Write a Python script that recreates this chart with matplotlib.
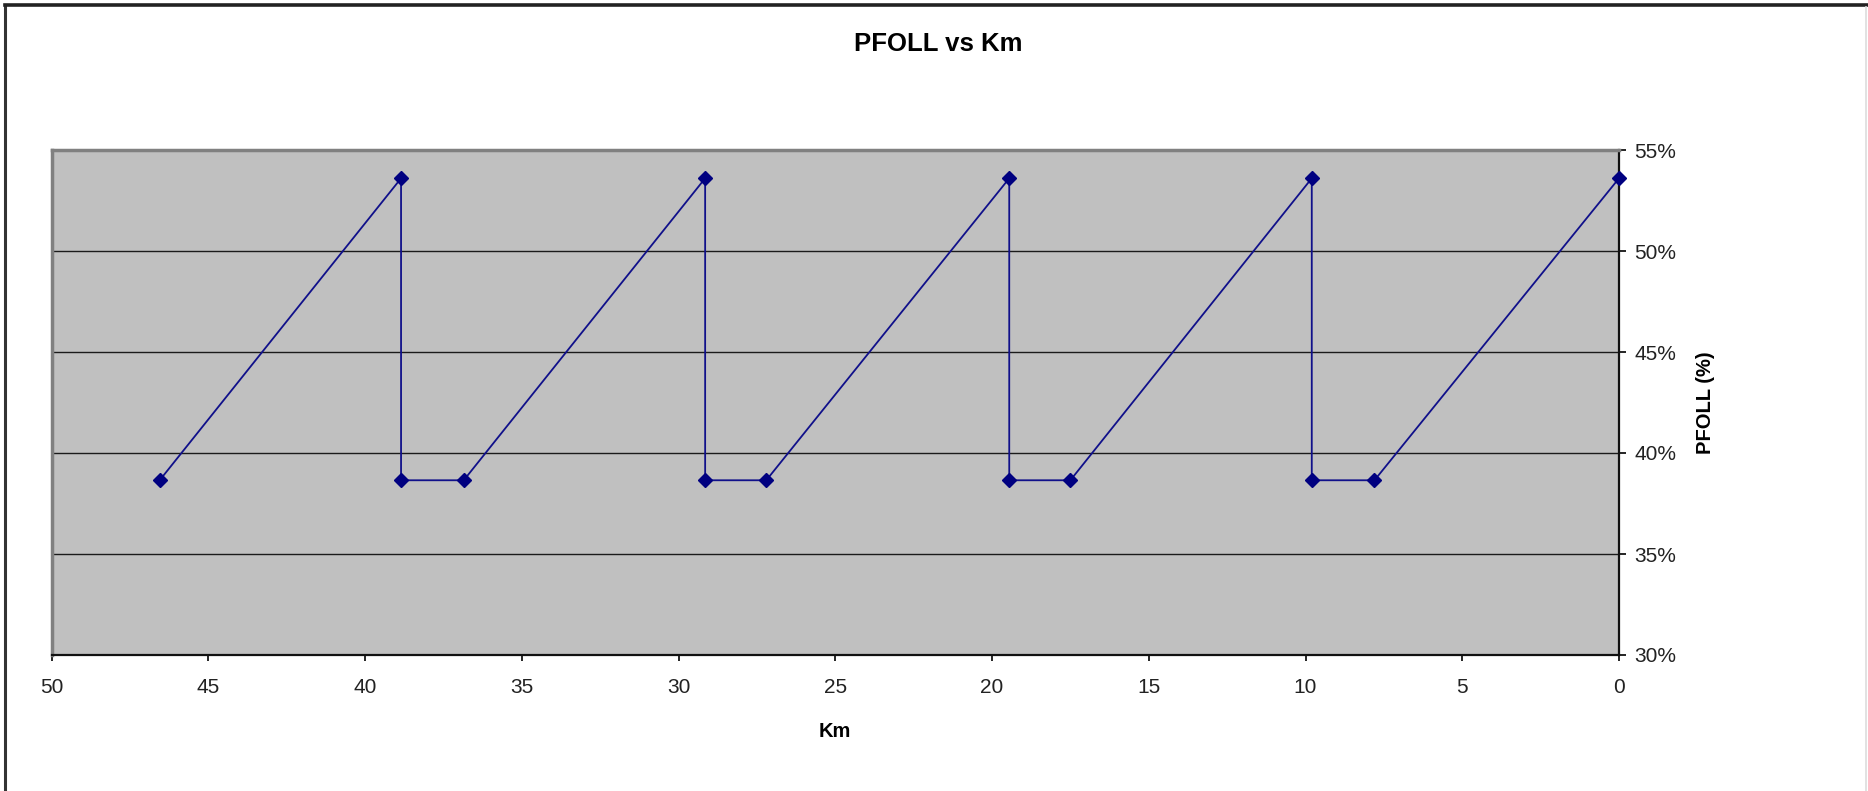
import matplotlib
matplotlib.use("Agg")
import matplotlib.pyplot as plt
from matplotlib.lines import Line2D
from matplotlib.ticker import PercentFormatter

plt.rcParams['font.family'] = ['Liberation Sans', 'DejaVu Sans']

# distance (km) and PFOLL (fraction) along the route
km = [46.55, 38.85, 38.85, 36.85, 29.15, 29.15, 27.2, 19.45, 19.45, 17.5,
      9.8, 9.8, 7.8, 0.0]
pfoll = [0.3865, 0.536, 0.3865, 0.3865, 0.536, 0.3865, 0.3865, 0.536, 0.3865,
         0.3865, 0.536, 0.3865, 0.3865, 0.536]

x_ticks = [50, 45, 40, 35, 30, 25, 20, 15, 10, 5, 0]
y_ticks = [0.30, 0.35, 0.40, 0.45, 0.50, 0.55]

W, H = 1868, 791
fig = plt.figure(figsize=(W / 100, H / 100), dpi=100)
fig.patch.set_facecolor('white')

# plot area in pixel coordinates
left, right, top, bottom = 51.5, 1619, 150, 655
ax = fig.add_axes([left / W, 1 - bottom / H, (right - left) / W, (bottom - top) / H])
ax.set_facecolor('#C0C0C0')

ax.plot(km, pfoll, color='#10108a', lw=1.3, marker='D', markersize=7,
        markerfacecolor='#000080', markeredgecolor='#000080', zorder=3,
        clip_on=False)

ax.set_xlim(50, 0)
ax.set_ylim(0.30, 0.55)
ax.set_xticks(x_ticks)
ax.set_yticks(y_ticks)
ax.yaxis.set_major_formatter(PercentFormatter(1.0, decimals=0))

ax.yaxis.tick_right()
ax.yaxis.set_label_position('right')
ax.yaxis.grid(True, color='#1a1a1a', lw=1.0)
ax.set_axisbelow(True)

ax.tick_params(axis='x', direction='out', length=4.5, width=1.2, pad=12,
               labelsize=15, colors='black', labelcolor='#222222')
ax.tick_params(axis='y', direction='out', length=5, width=1.2, pad=6,
               labelsize=15, colors='black', labelcolor='#222222')

for side in ('top', 'left'):
    ax.spines[side].set_color('#808080')
    ax.spines[side].set_linewidth(2.5)
for side in ('bottom', 'right'):
    ax.spines[side].set_color('#111111')
    ax.spines[side].set_linewidth(1.6)

ax.set_xlabel('Km', fontsize=14.5, fontweight='bold', labelpad=18)
ax.set_ylabel('PFOLL (%)', fontsize=14.5, fontweight='bold', labelpad=14)

fig.text(938 / W, 1 - 44 / H, 'PFOLL vs Km', ha='center', va='center',
         fontsize=18.5, fontweight='bold')

# chart area border
fig.add_artist(Line2D([5 / W, 5 / W], [0, 1 - 5 / H], color='#333333', lw=2.2))
fig.add_artist(Line2D([5 / W, 1], [1 - 5 / H, 1 - 5 / H], color='#222222', lw=2.6))
fig.add_artist(Line2D([1866 / W, 1866 / W], [0, 1 - 7 / H], color='#dddddd', lw=1.2))

fig.savefig('out.png', dpi=100)
